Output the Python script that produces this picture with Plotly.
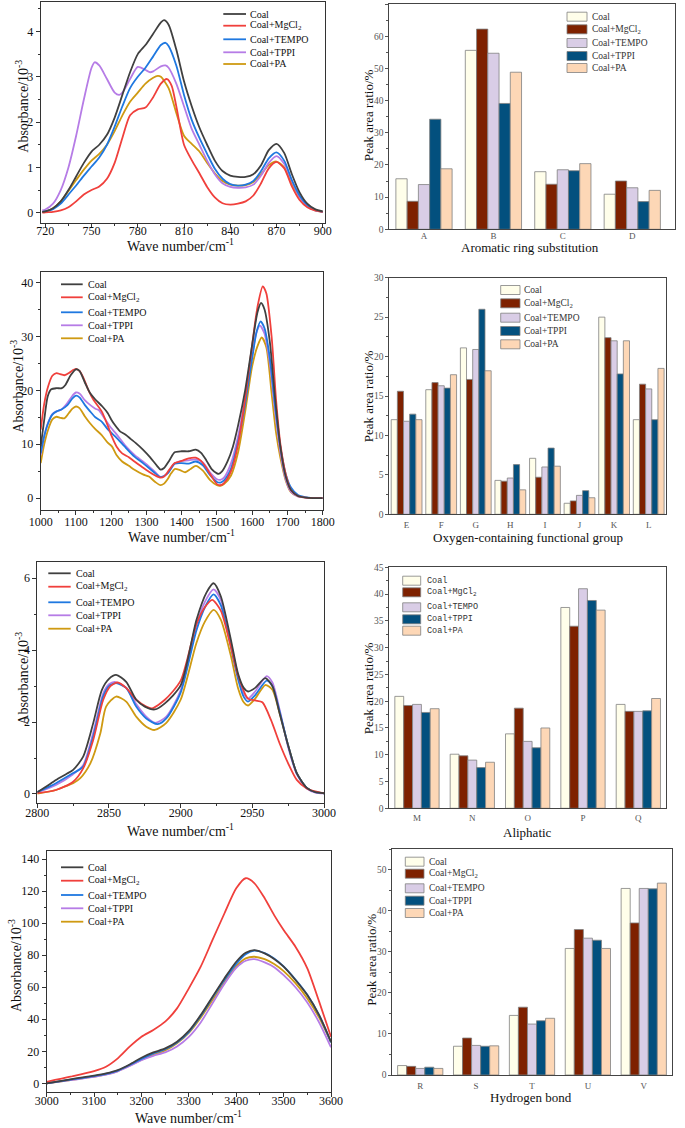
import plotly.graph_objects as go

W, H = 685, 1128

# ---------------- series names / colours ----------------
names = ["Coal", "Coal+MgCl<sub>2</sub>", "Coal+TEMPO", "Coal+TPPI", "Coal+PA"]
line_colors = ["#404040", "#F0403C", "#1F78E0", "#B67CE6", "#CF9A12"]
bar_colors = ["#FFFEEA", "#7E2100", "#D9CDE6", "#03507E", "#FDD7B6"]

# ---------------- panel a : 717-901 cm-1 ----------------
a_coal_x = [718, 720, 725, 730, 735, 740, 745, 750, 755, 760, 765, 770, 775, 780, 785, 790, 795, 797, 800, 805, 810, 815, 820, 825, 830, 835, 840, 845, 850, 855, 860, 865, 870, 875, 880, 885, 890, 895, 900]
a_coal_y = [0.02, 0.03, 0.1, 0.25, 0.5, 0.8, 1.1, 1.35, 1.5, 1.72, 2.1, 2.6, 3.1, 3.5, 3.7, 3.95, 4.2, 4.25, 4.15, 3.6, 2.9, 2.35, 1.88, 1.5, 1.15, 0.92, 0.82, 0.79, 0.79, 0.85, 1.05, 1.38, 1.52, 1.32, 0.85, 0.45, 0.2, 0.08, 0.03]
a_mg_x = [718, 720, 725, 730, 735, 740, 745, 750, 755, 760, 765, 770, 775, 780, 785, 790, 795, 799, 802, 805, 810, 815, 820, 825, 830, 835, 840, 845, 850, 855, 860, 865, 870, 875, 880, 885, 890, 895, 900]
a_mg_y = [0.0, 0.01, 0.02, 0.05, 0.12, 0.25, 0.4, 0.5, 0.58, 0.75, 1.1, 1.65, 2.15, 2.28, 2.32, 2.55, 2.85, 2.95, 2.8, 2.35, 1.5, 1.16, 0.87, 0.57, 0.34, 0.21, 0.18, 0.2, 0.25, 0.38, 0.65, 0.98, 1.12, 0.98, 0.58, 0.28, 0.12, 0.05, 0.02]
a_te_x = [718, 720, 725, 730, 735, 740, 745, 750, 755, 760, 765, 770, 775, 780, 785, 790, 795, 798, 800, 805, 810, 815, 820, 825, 830, 835, 840, 845, 850, 855, 860, 865, 870, 875, 880, 885, 890, 895, 900]
a_te_y = [0.02, 0.03, 0.08, 0.2, 0.4, 0.6, 0.82, 1.02, 1.22, 1.5, 1.9, 2.35, 2.75, 3.0, 3.2, 3.45, 3.7, 3.75, 3.68, 3.25, 2.6, 2.05, 1.65, 1.3, 0.97, 0.75, 0.63, 0.6, 0.62, 0.7, 0.92, 1.2, 1.33, 1.15, 0.72, 0.38, 0.17, 0.06, 0.02]
a_tp_x = [718, 720, 725, 730, 735, 740, 745, 750, 752, 755, 760, 765, 768, 770, 775, 780, 785, 788, 790, 795, 798, 800, 805, 810, 815, 820, 825, 830, 835, 840, 845, 850, 855, 860, 865, 870, 875, 880, 885, 890, 895, 900]
a_tp_y = [0.05, 0.07, 0.2, 0.5, 1.0, 1.7, 2.5, 3.2, 3.32, 3.25, 2.95, 2.65, 2.6, 2.65, 2.95, 3.22, 3.15, 3.1, 3.12, 3.23, 3.25, 3.2, 2.85, 2.35, 1.85, 1.5, 1.15, 0.85, 0.65, 0.57, 0.55, 0.56, 0.62, 0.82, 1.1, 1.25, 1.08, 0.7, 0.35, 0.15, 0.05, 0.02]
a_pa_x = [718, 720, 725, 730, 735, 740, 745, 750, 755, 760, 765, 770, 775, 780, 785, 790, 793, 795, 800, 805, 810, 815, 820, 825, 830, 835, 840, 845, 850, 855, 860, 865, 870, 875, 880, 885, 890, 895, 900]
a_pa_y = [0.02, 0.03, 0.1, 0.25, 0.48, 0.72, 0.95, 1.15, 1.3, 1.5, 1.8, 2.15, 2.45, 2.65, 2.85, 2.98, 3.02, 3.0, 2.75, 2.2, 1.7, 1.52, 1.35, 1.1, 0.87, 0.7, 0.62, 0.6, 0.61, 0.68, 0.85, 1.05, 1.13, 1.0, 0.65, 0.35, 0.15, 0.05, 0.02]

# ---------------- panel c : 1000-1800 cm-1 ----------------
c_coal_x = [1000, 1010, 1020, 1030, 1045, 1060, 1070, 1085, 1100, 1110, 1125, 1140, 1155, 1175, 1190, 1200, 1210, 1225, 1240, 1255, 1270, 1290, 1310, 1330, 1340, 1350, 1365, 1380, 1400, 1420, 1440, 1455, 1470, 1485, 1500, 1505, 1515, 1530, 1545, 1560, 1580, 1600, 1615, 1625, 1635, 1650, 1665, 1680, 1695, 1710, 1730, 1760, 1800]
c_coal_y = [9.6, 14.5, 18.9, 20.2, 20.4, 20.4, 21.0, 22.8, 23.9, 23.6, 21.5, 19.5, 18.3, 17.0, 15.8, 14.6, 13.6, 12.4, 11.8, 11.0, 10.2, 9.0, 7.6, 6.0, 5.3, 5.6, 7.0, 8.5, 8.7, 8.7, 9.0, 8.4, 7.0, 5.4, 4.6, 4.5, 5.0, 6.8, 9.5, 13.5, 20.0, 28.5, 34.5, 36.2, 35.0, 29.0, 18.5, 9.5, 4.0, 1.5, 0.4, 0.05, 0.0]
c_mg_x = [1000, 1010, 1021, 1033, 1045, 1055, 1067, 1080, 1090, 1100, 1110, 1120, 1135, 1150, 1173, 1190, 1202, 1215, 1231, 1250, 1266, 1285, 1307, 1325, 1340, 1350, 1365, 1380, 1400, 1420, 1440, 1455, 1470, 1485, 1500, 1510, 1520, 1540, 1560, 1580, 1600, 1615, 1630, 1640, 1655, 1668, 1680, 1695, 1710, 1730, 1760, 1800]
c_mg_y = [12.7, 17.5, 20.7, 22.7, 23.2, 23.0, 22.8, 23.2, 23.7, 24.0, 23.6, 22.5, 20.1, 18.2, 16.1, 13.5, 11.4, 9.6, 8.3, 7.6, 6.8, 5.9, 4.9, 4.2, 3.8, 4.0, 5.3, 6.5, 6.9, 7.4, 7.5, 6.9, 5.6, 4.0, 2.6, 2.4, 2.8, 5.0, 10.0, 18.5, 28.5, 35.5, 39.3, 38.0, 30.0, 18.0, 10.0, 4.5, 1.5, 0.4, 0.05, 0.0]
c_te_x = [1000, 1010, 1021, 1033, 1045, 1060, 1075, 1090, 1100, 1110, 1125, 1140, 1155, 1173, 1190, 1212, 1242, 1266, 1290, 1307, 1325, 1340, 1360, 1380, 1400, 1420, 1440, 1460, 1480, 1500, 1510, 1520, 1540, 1560, 1580, 1600, 1613, 1624, 1635, 1650, 1665, 1680, 1695, 1710, 1730, 1760, 1800]
c_te_y = [8.3, 11.5, 13.9, 15.5, 16.1, 16.5, 17.2, 18.5, 19.0, 18.7, 17.3, 16.1, 15.0, 14.2, 12.8, 11.4, 9.3, 7.7, 6.5, 5.6, 4.6, 3.9, 4.6, 6.4, 6.5, 6.4, 6.8, 6.1, 4.3, 3.0, 2.9, 3.3, 5.5, 10.5, 17.5, 26.0, 31.0, 32.8, 31.5, 26.0, 17.0, 9.5, 4.5, 2.0, 0.6, 0.1, 0.0]
c_tp_x = [1000, 1010, 1021, 1033, 1045, 1060, 1075, 1090, 1100, 1110, 1125, 1140, 1155, 1165, 1181, 1200, 1212, 1242, 1266, 1290, 1307, 1325, 1340, 1360, 1380, 1400, 1420, 1440, 1460, 1480, 1500, 1510, 1520, 1540, 1560, 1580, 1600, 1611, 1622, 1635, 1650, 1665, 1680, 1695, 1710, 1730, 1760, 1800]
c_tp_y = [8.0, 11.5, 14.0, 15.6, 16.1, 16.5, 17.6, 19.0, 19.6, 19.4, 18.2, 17.3, 16.6, 16.3, 14.8, 13.0, 12.1, 9.6, 8.0, 6.8, 5.9, 4.8, 3.95, 4.6, 6.4, 6.9, 7.0, 7.2, 6.6, 4.8, 3.5, 3.4, 3.8, 6.5, 11.5, 18.5, 26.5, 30.5, 32.0, 30.5, 25.0, 16.0, 8.5, 3.5, 1.2, 0.3, 0.05, 0.0]
c_pa_x = [1000, 1010, 1021, 1033, 1045, 1055, 1067, 1080, 1090, 1100, 1110, 1125, 1140, 1155, 1173, 1190, 1202, 1215, 1231, 1250, 1266, 1290, 1307, 1325, 1340, 1350, 1360, 1370, 1380, 1395, 1410, 1425, 1440, 1460, 1480, 1500, 1510, 1520, 1540, 1560, 1580, 1600, 1615, 1627, 1640, 1655, 1668, 1680, 1695, 1710, 1730, 1760, 1800]
c_pa_y = [6.5, 10.0, 12.7, 14.6, 15.1, 14.9, 14.8, 15.8, 16.6, 17.0, 16.7, 15.2, 13.9, 12.8, 11.7, 10.3, 9.6, 8.0, 6.8, 6.0, 5.25, 4.4, 4.0, 3.0, 2.4, 2.7, 3.5, 4.6, 5.4, 5.2, 4.8, 5.4, 6.0, 5.1, 3.4, 2.4, 2.3, 2.6, 4.2, 8.5, 16.0, 24.5, 28.2, 29.8, 28.0, 19.5, 12.0, 7.5, 3.3, 1.1, 0.3, 0.05, 0.0]

# ---------------- panel e : 2800-3000 cm-1 ----------------
e_coal_x = [2800, 2806, 2813, 2820, 2825, 2832, 2839, 2845, 2850, 2855, 2862, 2869, 2875, 2882, 2889, 2900, 2911, 2918, 2923, 2928, 2935, 2940, 2944, 2947, 2952, 2959, 2964, 2969, 2975, 2981, 2988, 2994, 3000]
e_coal_y = [0.05, 0.2, 0.39, 0.55, 0.67, 1.04, 1.97, 2.89, 3.2, 3.31, 3.12, 2.62, 2.43, 2.35, 2.52, 3.02, 4.84, 5.6, 5.86, 5.5, 4.3, 3.35, 2.95, 2.85, 2.95, 3.22, 3.0, 2.25, 1.35, 0.58, 0.17, 0.05, 0.02]
e_mg_x = [2800, 2813, 2825, 2832, 2839, 2846, 2851, 2856, 2862, 2869, 2876, 2880, 2889, 2900, 2911, 2917, 2922, 2928, 2935, 2940, 2947, 2952, 2957, 2963, 2969, 2975, 2981, 2988, 2993, 3000]
e_mg_y = [0.02, 0.11, 0.34, 0.71, 1.5, 2.62, 3.0, 3.1, 2.95, 2.62, 2.43, 2.38, 2.62, 3.15, 4.72, 5.2, 5.4, 5.1, 4.1, 3.3, 2.65, 2.6, 2.55, 2.06, 1.41, 0.85, 0.39, 0.15, 0.08, 0.02]
e_te_x = [2800, 2813, 2825, 2832, 2839, 2846, 2850, 2855, 2862, 2869, 2876, 2884, 2890, 2900, 2911, 2917, 2923, 2928, 2935, 2940, 2944, 2947, 2952, 2960, 2964, 2969, 2975, 2981, 2988, 2994, 3000]
e_te_y = [0.05, 0.3, 0.58, 0.76, 1.6, 2.72, 3.0, 3.08, 2.95, 2.43, 2.1, 1.94, 2.1, 2.82, 4.55, 5.2, 5.55, 5.25, 4.1, 3.2, 2.7, 2.57, 2.75, 3.15, 3.0, 2.3, 1.35, 0.58, 0.17, 0.05, 0.02]
e_tp_x = [2800, 2813, 2825, 2832, 2839, 2846, 2850, 2854, 2862, 2869, 2876, 2882, 2890, 2900, 2911, 2917, 2923, 2928, 2935, 2940, 2944, 2947, 2952, 2960, 2964, 2969, 2975, 2981, 2988, 2994, 3000]
e_tp_y = [0.04, 0.25, 0.55, 0.8, 1.7, 2.8, 3.05, 3.12, 2.95, 2.5, 2.15, 1.98, 2.15, 2.88, 4.7, 5.35, 5.69, 5.4, 4.2, 3.3, 2.8, 2.65, 2.85, 3.28, 3.1, 2.35, 1.3, 0.55, 0.15, 0.04, 0.02]
e_pa_x = [2800, 2813, 2820, 2825, 2830, 2837, 2844, 2848, 2855, 2862, 2869, 2876, 2882, 2890, 2900, 2911, 2917, 2923, 2928, 2935, 2940, 2944, 2947, 2952, 2959, 2964, 2969, 2975, 2981, 2988, 2994, 3000]
e_pa_y = [0.01, 0.11, 0.22, 0.3, 0.44, 0.85, 1.69, 2.43, 2.71, 2.57, 2.15, 1.87, 1.78, 1.98, 2.62, 4.2, 4.8, 5.12, 4.85, 3.85, 2.95, 2.55, 2.46, 2.65, 3.03, 2.9, 2.25, 1.35, 0.58, 0.17, 0.05, 0.02]

# ---------------- panel g : 3000-3600 cm-1 ----------------
g_x = [3000, 3050, 3100, 3125, 3150, 3175, 3200, 3225, 3250, 3275, 3300, 3325, 3350, 3375, 3400, 3420, 3438, 3460, 3480, 3500, 3525, 3550, 3575, 3600]
g_coal_y = [0.0, 2.5, 4.8, 6.2, 8.3, 11.8, 16.0, 19.3, 21.8, 26.0, 32.7, 42.6, 54.1, 65.5, 75.9, 81.5, 83.2, 81.1, 77.6, 72.8, 64.5, 55.1, 42.6, 26.0]
g_mg_y = [1.0, 4.2, 7.7, 10.4, 15.6, 22.9, 29.1, 33.3, 38.5, 46.8, 59.3, 72.8, 89.5, 106.0, 121.7, 128.0, 125.0, 115.5, 105.0, 95.7, 85.3, 71.8, 51.0, 29.1]
g_te_y = [0.0, 2.3, 4.5, 5.9, 8.0, 11.5, 15.3, 18.7, 21.3, 25.5, 32.0, 42.0, 53.5, 64.5, 74.5, 80.5, 82.8, 81.3, 78.0, 73.0, 64.8, 55.3, 42.5, 25.5]
g_tp_y = [0.0, 2.0, 4.0, 5.4, 7.5, 10.8, 14.5, 17.2, 19.3, 23.0, 29.0, 38.0, 50.0, 62.0, 72.0, 76.5, 77.5, 75.5, 72.5, 67.5, 60.0, 50.5, 38.0, 22.5]
g_pa_y = [0.0, 2.1, 4.2, 5.6, 7.7, 11.0, 14.8, 17.8, 20.5, 25.0, 31.5, 41.0, 52.0, 63.0, 73.0, 78.0, 79.0, 77.5, 74.5, 70.0, 62.5, 53.0, 41.0, 25.5]

# ---------------- bar data ----------------
b_cats = ["A", "B", "C", "D"]
b_coal = [15.7, 55.6, 17.9, 10.9]
b_mg = [8.7, 62.2, 14.0, 15.0]
b_te = [13.9, 54.7, 18.5, 12.9]
b_tp = [34.2, 39.1, 18.2, 8.6]
b_pa = [18.8, 48.8, 20.4, 12.1]

d_cats = ["E", "F", "G", "H", "I", "J", "K", "L"]
d_coal = [12.0, 15.8, 21.1, 4.3, 7.1, 1.4, 25.0, 12.0]
d_mg = [15.6, 16.7, 17.1, 4.2, 4.7, 1.7, 22.4, 16.5]
d_te = [11.8, 16.3, 20.9, 4.6, 6.0, 2.4, 22.0, 15.9]
d_tp = [12.7, 16.0, 26.0, 6.3, 8.4, 3.0, 17.8, 12.0]
d_pa = [12.0, 17.7, 18.2, 3.1, 6.1, 2.1, 22.0, 18.5]

f_cats = ["M", "N", "O", "P", "Q"]
f_coal = [20.9, 10.1, 13.9, 37.5, 19.4]
f_mg = [19.2, 9.8, 18.7, 34.0, 18.1]
f_te = [19.4, 9.0, 12.5, 41.0, 18.1]
f_tp = [17.9, 7.6, 11.3, 38.8, 18.2]
f_pa = [18.6, 8.6, 15.0, 37.0, 20.5]

h_cats = ["R", "S", "T", "U", "V"]
h_coal = [2.3, 7.0, 14.5, 30.8, 45.4]
h_mg = [2.1, 9.0, 16.5, 35.4, 37.0]
h_te = [1.6, 7.2, 12.4, 33.3, 45.4]
h_tp = [1.9, 7.0, 13.2, 32.8, 45.3]
h_pa = [1.6, 7.1, 13.8, 30.8, 46.7]

# ---------------- layout geometry (pixels) ----------------
frames = {
    "a": (40.7, 2, 325, 222.7),
    "b": (389.3, 4, 675.3, 229.3),
    "c": (40.7, 272.3, 322.7, 510),
    "d": (389.3, 277.7, 666, 514.3),
    "e": (37.3, 561.7, 324, 803.3),
    "f": (389.3, 567.3, 666, 808.3),
    "g": (46.7, 851, 331, 1091.7),
    "h": (392.3, 849, 671.7, 1075),
}
order = "abcdefgh"

SERIF = "Liberation Serif"

def px(x):
    return x / W

def py(y):
    return 1 - y / H

fig = go.Figure()

def axn(key):
    i = order.index(key) + 1
    return ("x" if i == 1 else f"x{i}"), ("y" if i == 1 else f"y{i}"), i

# ---- spectra ----
spectra = {
    "a": [(a_coal_x, a_coal_y), (a_mg_x, a_mg_y), (a_te_x, a_te_y), (a_tp_x, a_tp_y), (a_pa_x, a_pa_y)],
    "c": [(c_coal_x, c_coal_y), (c_mg_x, c_mg_y), (c_te_x, c_te_y), (c_tp_x, c_tp_y), (c_pa_x, c_pa_y)],
    "e": [(e_coal_x, e_coal_y), (e_mg_x, e_mg_y), (e_te_x, e_te_y), (e_tp_x, e_tp_y), (e_pa_x, e_pa_y)],
    "g": [(g_x, g_coal_y), (g_x, g_mg_y), (g_x, g_te_y), (g_x, g_tp_y), (g_x, g_pa_y)],
}
draw_order = [4, 3, 2, 1, 0]
for key, series in spectra.items():
    xa, ya, _ = axn(key)
    for k in draw_order:
        xs, ys = series[k]
        fig.add_trace(go.Scatter(x=xs, y=ys, mode="lines", xaxis=xa, yaxis=ya,
                                 line=dict(color=line_colors[k], width=1.8, shape="spline", smoothing=0.7),
                                 showlegend=False, hoverinfo="skip"))

# ---- bars ----
bars = {
    "b": (b_cats, [b_coal, b_mg, b_te, b_tp, b_pa], 0.81),
    "d": (d_cats, [d_coal, d_mg, d_te, d_tp, d_pa], 0.89),
    "f": (f_cats, [f_coal, f_mg, f_te, f_tp, f_pa], 0.80),
    "h": (h_cats, [h_coal, h_mg, h_te, h_tp, h_pa], 0.81),
}
for key, (cats, vals, gw) in bars.items():
    xa, ya, _ = axn(key)
    bw = gw / 5
    for k, v in enumerate(vals):
        fig.add_trace(go.Bar(x=cats, y=v, xaxis=xa, yaxis=ya, width=bw, offset=-gw / 2 + k * bw,
                             marker=dict(color=bar_colors[k], line=dict(color="#808080", width=0.8)),
                             showlegend=False, hoverinfo="skip"))

# ---- axes ----
line_axes = {
    "a": dict(xr=[717, 901.5], xt=30, xm=15, x0=720, yr=[-0.22, 4.65], yt=1, ym=0.5, so=-7),
    "c": dict(xr=[1000, 1800], xt=100, xm=50, x0=1000, yr=[-2.2, 41.9], yt=10, ym=5, so=-3),
    "e": dict(xr=[2800, 3000], xt=50, xm=25, x0=2800, yr=[-0.26, 6.46], yt=2, ym=1, so=-6),
    "g": dict(xr=[3000, 3600], xt=100, xm=50, x0=3000, yr=[-5.2, 145], yt=20, ym=10, so=-6),
}
bar_axes = {
    "b": dict(xr=[-0.5, 3.62], yr=[0, 70], yt=10, ym=5, so=-2),
    "d": dict(xr=[-0.5, 7.5], yr=[0, 30], yt=5, ym=2.5, so=2),
    "f": dict(xr=[-0.5, 4.5], yr=[0, 45], yt=5, ym=2.5, so=1),
    "h": dict(xr=[-0.5, 4.5], yr=[0, 55], yt=10, ym=5, so=2),
}

layout_axes = {}
for key in order:
    xa, ya, i = axn(key)
    x0, y0, x1, y1 = frames[key]
    xd = [px(x0), px(x1)]
    yd = [py(y1), py(y0)]
    xname = "xaxis" if i == 1 else f"xaxis{i}"
    yname = "yaxis" if i == 1 else f"yaxis{i}"
    if key in line_axes:
        s = line_axes[key]
        layout_axes[xname] = dict(domain=xd, anchor=ya, range=s["xr"], tick0=s["x0"], dtick=s["xt"],
                                  automargin=False, ticklabelstandoff=s["so"],
                                  showline=True, mirror=True, linecolor="#333", linewidth=1,
                                  ticks="outside", ticklen=4, tickcolor="#333", showgrid=False, zeroline=False,
                                  minor=dict(ticks="outside", ticklen=2, dtick=s["xm"], tickcolor="#333"),
                                  tickfont=dict(family=SERIF, size=12, color="#111"))
        layout_axes[yname] = dict(domain=yd, anchor=xa, range=s["yr"], tick0=0, dtick=s["yt"],
                                  automargin=False,
                                  showline=True, mirror=True, linecolor="#333", linewidth=1,
                                  ticks="outside", ticklen=4, tickcolor="#333", showgrid=False, zeroline=False,
                                  minor=dict(ticks="outside", ticklen=2, dtick=s["ym"], tickcolor="#333"),
                                  tickfont=dict(family=SERIF, size=12, color="#111"))
    else:
        s = bar_axes[key]
        layout_axes[xname] = dict(domain=xd, anchor=ya, range=s["xr"], type="category",
                                  automargin=False, ticklabelstandoff=s["so"],
                                  showline=True, mirror=True, linecolor="#444", linewidth=1,
                                  ticks="", showgrid=False, zeroline=False,
                                  tickfont=dict(family=SERIF, size=9, color="#555"))
        layout_axes[yname] = dict(domain=yd, anchor=xa, range=s["yr"], tick0=0, dtick=s["yt"],
                                  automargin=False,
                                  showline=True, mirror=True, linecolor="#444", linewidth=1,
                                  ticks="outside", ticklen=3, tickcolor="#555", showgrid=False, zeroline=False,
                                  minor=dict(ticks="outside", ticklen=2, dtick=s["ym"], tickcolor="#555"),
                                  tickfont=dict(family=SERIF, size=9.5, color="#555"))

# ---- annotations: axis titles ----
annotations = []
shapes = []

def text(x, y, t, size, angle=0, anchor="center", family=SERIF, color="#111"):
    annotations.append(dict(x=px(x), y=py(y), xref="paper", yref="paper", text=t, showarrow=False,
                            textangle=angle, xanchor=anchor, yanchor="middle",
                            font=dict(family=family, size=size, color=color)))

wn = "Wave number/cm<sup>-1</sup>"
ab = "Absorbance/10<sup>-3</sup>"
par = "Peak area ratio/%"
text(180, 245, wn, 14)
text(181, 536, wn, 14)
text(180, 830, wn, 14)
text(188, 1117, wn, 14)
text(21.7, 106, ab, 14, -90)
text(16.7, 386, ab, 14, -90)
text(21.7, 678, ab, 14, -90)
text(15, 966, ab, 14, -90)
text(368.3, 115, par, 13, -90)
text(368.3, 396, par, 13, -90)
text(368.3, 688, par, 13, -90)
text(370.7, 960, par, 13, -90)
text(530, 247, "Aromatic ring substitution", 13)
text(528, 537, "Oxygen-containing functional group", 13)
text(527, 832, "Aliphatic", 13)
text(531, 1097, "Hydrogen bond", 13)

# ---- custom legends ----
line_legends = {
    "a": (223.3, 246, 248.3, [14, 25.7, 39.3, 52.3, 64]),
    "c": (61, 82.7, 85.7, [284.3, 297.3, 312.3, 325.3, 338.3]),
    "e": (48.3, 70.7, 74, [573.3, 586.7, 602.3, 615.3, 628.7]),
    "g": (61, 83.3, 86, [867.3, 880.7, 895, 908.3, 921.7]),
}
for key, (lx0, lx1, tx, ys) in line_legends.items():
    for k, yy in enumerate(ys):
        shapes.append(dict(type="line", xref="paper", yref="paper", x0=px(lx0), x1=px(lx1), y0=py(yy), y1=py(yy),
                           line=dict(color=line_colors[k], width=1.8)))
        text(tx, yy, names[k], 10, anchor="left")

bar_legends = {
    "b": (567, 587, 590, [16.7, 29.3, 43, 56, 68], SERIF, 9.5),
    "d": (500.7, 520, 522, [290, 303.3, 317.7, 331, 344.3], SERIF, 9.5),
    "f": (402.7, 420.7, 425, [580.7, 592.3, 607.3, 619.3, 630.7], "Liberation Mono", 8.5),
    "h": (405.3, 424, 427, [861.7, 873.7, 888.3, 900.7, 913], SERIF, 9.5),
}
for key, (bx0, bx1, tx, ys, fam, fs) in bar_legends.items():
    for k, yy in enumerate(ys):
        shapes.append(dict(type="rect", xref="paper", yref="paper", x0=px(bx0), x1=px(bx1),
                           y0=py(yy + 4.5), y1=py(yy - 4.5), fillcolor=bar_colors[k],
                           line=dict(color="#808080", width=0.8)))
        text(tx, yy, names[k], fs, anchor="left", family=fam, color="#333")

fig.update_layout(template="none", width=W, height=H, margin=dict(l=0, r=0, t=0, b=0, pad=0),
                  paper_bgcolor="white", plot_bgcolor="white", barmode="overlay",
                  showlegend=False, annotations=annotations, shapes=shapes, **layout_axes)

fig.write_html("out.html", config={"displayModeBar": False},
               post_script="document.body.style.margin='0';document.body.style.overflow='hidden';")
